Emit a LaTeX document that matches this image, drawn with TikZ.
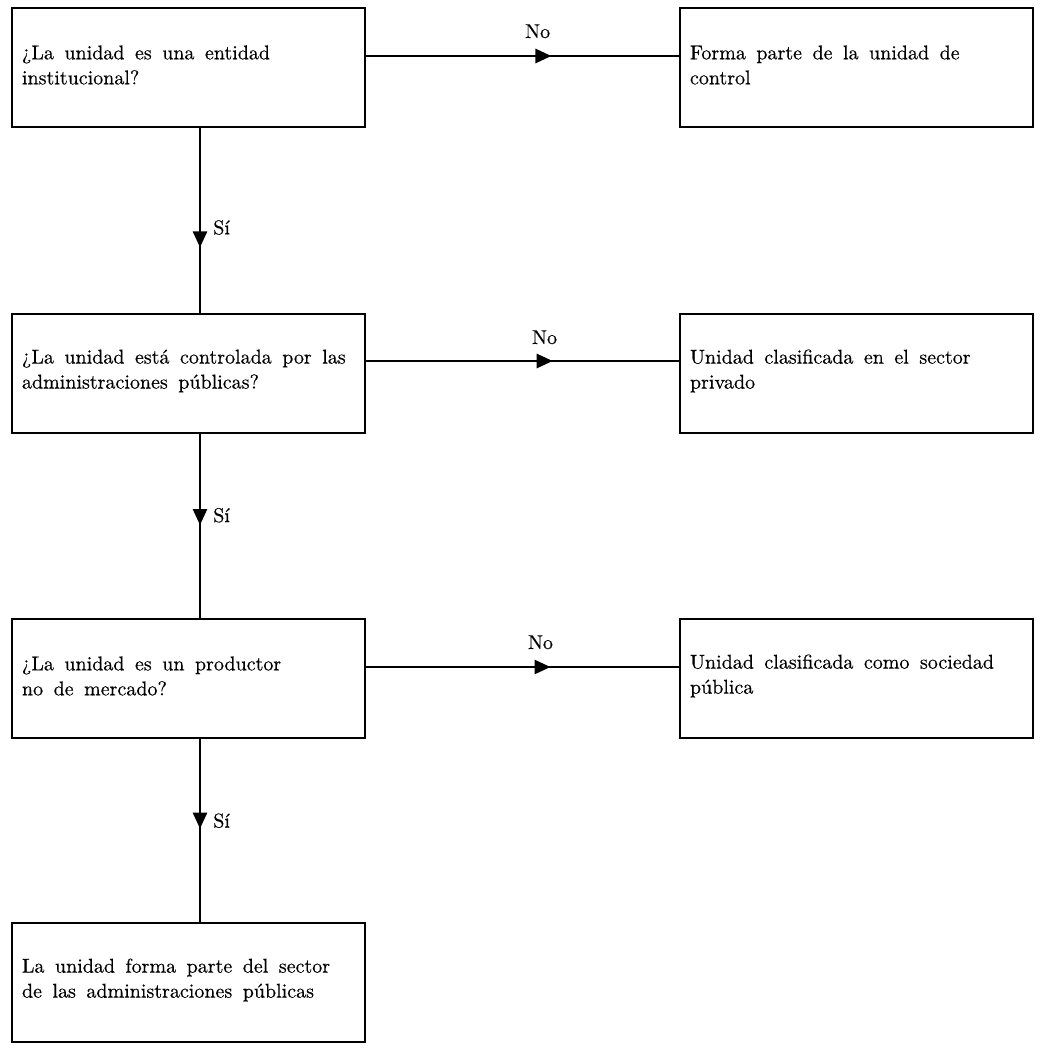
\documentclass[tikz,border=0pt]{standalone}
\usepackage{fontspec}
\setmainfont{lmroman10-regular.otf}[FakeBold=0.35]
\usetikzlibrary{arrows.meta,decorations.markings}
\newcommand{\myboxfont}{\fontsize{20}{25}\selectfont}
\newcommand{\widespaces}{\spaceskip=10.5pt plus 3pt minus 1pt\relax\xspaceskip=\spaceskip}
\tikzset{
  box/.style={draw, line width=2.8pt, minimum width=353pt, minimum height=119pt,
    text width=333pt, inner xsep=10pt, inner ysep=0pt, outer sep=0pt, align=left,
    font=\myboxfont, execute at begin node={\widespaces},
    execute at end node={\par\vspace{5pt}}},
  conn/.style={line width=2.6pt},
  lbl/.style={font=\fontsize{20}{25}\selectfont, inner sep=0pt},
  tipat/.style={postaction={decorate}, decoration={markings,
    mark=at position #1 with {\arrow{Triangle[length=16pt,width=14pt]}}}}
}
\begin{document}
\begin{tikzpicture}[x=1pt,y=-1pt]
\useasboundingbox[fill=white] (0,0) rectangle (1040,1049);
\node[box] (b1) at (188.5,67.5) {¿La unidad es una entidad\\institucional?};
\node[box] (r1) at (856.5,67.5) {Forma parte de la unidad de\\control};
\node[box] (b2) at (188.5,373.5) {¿La unidad está controlada por las\\administraciones públicas?};
\node[box] (r2) at (856.5,373.5) {Unidad clasificada en el sector\\privado};
\node[box] (b3) at (188.5,678.5) {¿La unidad es un productor\\no de mercado?};
\node[box] (r3) at (856.5,678.5) {Unidad clasificada como sociedad\\pública};
\node[box] (b4) at (188.5,982.5) {La unidad forma parte del sector\\de las administraciones públicas};
% horizontal connectors
\draw[conn, tipat=0.592] ([yshift=11.5pt]b1.east) -- node[lbl, pos=0.548, anchor=base, yshift=18pt] (n1) {No} ([yshift=11.5pt]r1.west);
\draw[conn, tipat=0.596] ([yshift=12.5pt]b2.east) -- node[lbl, pos=0.570, anchor=base, yshift=17pt] (n2) {No} ([yshift=12.5pt]r2.west);
\draw[conn, tipat=0.589] ([yshift=11.5pt]b3.east) -- node[lbl, pos=0.557, anchor=base, yshift=18pt] (n3) {No} ([yshift=11.5pt]r3.west);
% vertical connectors
\draw[conn, tipat=0.644] ([xshift=11.5pt]b1.south) -- node[lbl, pos=0.574, anchor=base west, xshift=12pt] (s1) {Sí} ([xshift=11.5pt]b2.north);
\draw[conn, tipat=0.495] ([xshift=11.5pt]b2.south) -- node[lbl, pos=0.479, anchor=base west, xshift=12pt] (s2) {Sí} ([xshift=11.5pt]b3.north);
\draw[conn, tipat=0.49] ([xshift=11.5pt]b3.south) -- node[lbl, pos=0.484, anchor=base west, xshift=12pt] (s3) {Sí} ([xshift=11.5pt]b4.north);
\end{tikzpicture}
\end{document}
